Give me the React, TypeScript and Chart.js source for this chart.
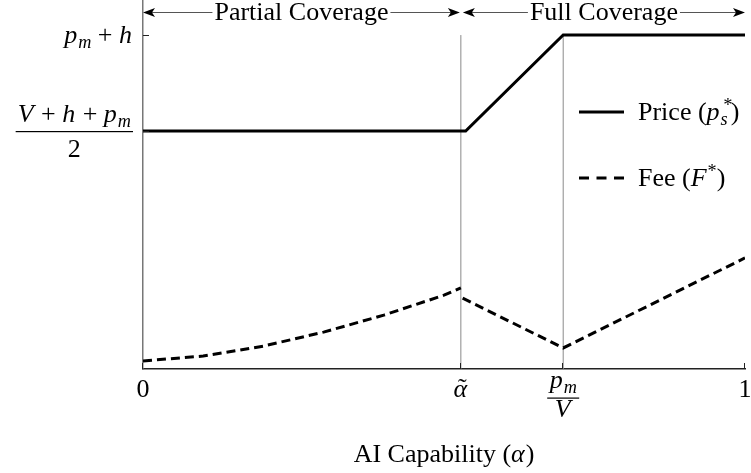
import { useEffect, useRef } from 'react';
import { Chart, registerables } from 'chart.js';

Chart.register(...registerables);

// ---- data ----
const X_TICKS = [0, 0.528, 0.698, 1]; // 0, alpha-tilde, p_m/V, 1
const Y_TICKS = [64.5, 90.5]; // (V+h+p_m)/2, p_m+h
const PRICE_X = [0, 0.536, 0.698, 1];
const PRICE_Y = [64.5, 64.5, 90.5, 90.5];
const FEE_X = [0, 0.1, 0.2, 0.3, 0.4, 0.5, 0.528, 0.529, 0.531, 0.698, 1];
const FEE_Y: (number | null)[] = [2.2, 3.5, 6.2, 10.0, 14.6, 20.0, 22.0, null, 19.2, 5.7, 30.1];
const REGIONS = ['Partial Coverage', 'Full Coverage'];
const SERIES = ['Price', 'Fee'];
const X_TITLE = 'AI Capability';

const FONT = '"Liberation Serif", "Times New Roman", serif';
const FS = 26;

type Seg = { t: string; it?: boolean; sub?: boolean; sup?: boolean; stack?: [string, string] };

function font(size: number, it?: boolean) {
  return `${it ? 'italic ' : ''}${size}px ${FONT}`;
}

function segW(ctx: CanvasRenderingContext2D, s: Seg, size: number) {
  if (s.stack) {
    ctx.font = font(size * 0.7, true);
    return Math.max(ctx.measureText(s.stack[0]).width, ctx.measureText(s.stack[1]).width) + 1;
  }
  ctx.font = font(s.sub || s.sup ? size * 0.7 : size, s.it);
  return ctx.measureText(s.t).width + (s.it && !s.sub && !s.sup ? 1 : 0);
}

function richW(ctx: CanvasRenderingContext2D, segs: Seg[], size: number) {
  return segs.reduce((a, s) => a + segW(ctx, s, size), 0);
}

function drawRich(
  ctx: CanvasRenderingContext2D,
  segs: Seg[],
  x: number,
  y: number,
  align: 'left' | 'center' | 'right',
  size = FS
) {
  const w = richW(ctx, segs, size);
  let cx = align === 'left' ? x : align === 'center' ? x - w / 2 : x - w;
  ctx.textAlign = 'left';
  ctx.textBaseline = 'alphabetic';
  ctx.fillStyle = '#000';
  for (const s of segs) {
    const sw = segW(ctx, s, size);
    if (s.stack) {
      ctx.font = font(size * 0.7, true);
      ctx.fillText(s.stack[0], cx + 2, y - size * 0.36);
      ctx.fillText(s.stack[1], cx, y + size * 0.2);
    } else {
      const small = s.sub || s.sup;
      ctx.font = font(small ? size * 0.7 : size, s.it);
      const dy = s.sub ? size * 0.2 : s.sup ? -size * 0.36 : 0;
      ctx.fillText(s.t, cx, y + dy);
    }
    cx += sw;
  }
  return w;
}

function arrowHead(ctx: CanvasRenderingContext2D, x: number, y: number, dir: number) {
  ctx.beginPath();
  ctx.moveTo(x, y);
  ctx.lineTo(x - dir * 12, y - 4.5);
  ctx.lineTo(x - dir * 9, y);
  ctx.lineTo(x - dir * 12, y + 4.5);
  ctx.closePath();
  ctx.fillStyle = '#000';
  ctx.fill();
}

const annotPlugin = {
  id: 'annot',
  afterDraw(chart: any) {
    const ctx: CanvasRenderingContext2D = chart.ctx;
    const xs = chart.scales.x;
    const ys = chart.scales.y;
    const area = chart.chartArea;
    ctx.save();

    // inward tick marks
    ctx.strokeStyle = '#222';
    ctx.lineWidth = 1;
    for (const v of Y_TICKS) {
      const py = Math.round(ys.getPixelForValue(v)) + 0.5;
      ctx.beginPath();
      ctx.moveTo(area.left, py);
      ctx.lineTo(area.left + 6, py);
      ctx.stroke();
    }
    for (const v of X_TICKS) {
      const px = Math.round(xs.getPixelForValue(v)) - 0.5;
      ctx.beginPath();
      ctx.moveTo(px, area.bottom);
      ctx.lineTo(px, area.bottom - 6);
      ctx.stroke();
    }

    // y tick labels
    const yTop = ys.getPixelForValue(Y_TICKS[1]);
    drawRich(ctx, [{ t: 'p', it: true }, { t: 'm', it: true, sub: true }, { t: ' + ' }, { t: 'h', it: true }], area.left - 10, yTop + 8, 'right');
    const yLow = ys.getPixelForValue(Y_TICKS[0]);
    const num: Seg[] = [{ t: 'V', it: true }, { t: ' + ' }, { t: 'h', it: true }, { t: ' + ' }, { t: 'p', it: true }, { t: 'm', it: true, sub: true }];
    const nw = richW(ctx, num, FS);
    const fracR = area.left - 10;
    const fracL = fracR - nw - 4;
    drawRich(ctx, num, (fracL + fracR) / 2, yLow - 9, 'center');
    ctx.fillStyle = '#000';
    ctx.fillRect(fracL, Math.round(yLow), fracR - fracL, 1.2);
    drawRich(ctx, [{ t: '2' }], (fracL + fracR) / 2, yLow + 26, 'center');

    // x tick labels
    const base = area.bottom + 28;
    drawRich(ctx, [{ t: '0' }], xs.getPixelForValue(X_TICKS[0]), base, 'center');
    const ax = xs.getPixelForValue(X_TICKS[1]);
    drawRich(ctx, [{ t: 'α', it: true }], ax, base, 'center');
    ctx.font = font(FS, false);
    ctx.textAlign = 'center';
    ctx.fillText('˜', ax + 1.5, base - 1);
    const px2 = xs.getPixelForValue(X_TICKS[2]);
    drawRich(ctx, [{ t: 'p', it: true }, { t: 'm', it: true, sub: true }], px2, base - 9, 'center');
    ctx.fillStyle = '#000';
    ctx.fillRect(px2 - 16, base + 0.5, 32, 1.2);
    drawRich(ctx, [{ t: 'V', it: true }], px2, base + 20, 'center');
    drawRich(ctx, [{ t: '1' }], xs.getPixelForValue(X_TICKS[3]), base, 'center');

    // x title
    drawRich(ctx, [{ t: X_TITLE + ' (' }, { t: 'α', it: true }, { t: ')' }], (area.left + area.right) / 2, 462, 'center');

    // top region arrows
    const ay = 12;
    const bounds = [
      [xs.getPixelForValue(X_TICKS[0]), xs.getPixelForValue(X_TICKS[1]) - 1],
      [xs.getPixelForValue(X_TICKS[1]) + 2, xs.getPixelForValue(X_TICKS[3])],
    ];
    REGIONS.forEach((label, i) => {
      const [l, r] = bounds[i];
      const c = (l + r) / 2;
      ctx.font = font(FS, false);
      const tw = ctx.measureText(label).width;
      ctx.fillStyle = '#000';
      ctx.textAlign = 'center';
      ctx.textBaseline = 'alphabetic';
      ctx.fillText(label, c, 20);
      ctx.strokeStyle = '#555';
      ctx.lineWidth = 1;
      ctx.beginPath();
      ctx.moveTo(l + 8, ay + 0.5);
      ctx.lineTo(c - tw / 2 - 2, ay + 0.5);
      ctx.moveTo(c + tw / 2 + 2, ay + 0.5);
      ctx.lineTo(r - 8, ay + 0.5);
      ctx.stroke();
      arrowHead(ctx, l, ay + 0.5, -1);
      arrowHead(ctx, r, ay + 0.5, 1);
    });

    // legend
    const lx0 = 579, lx1 = 624, tx = 638;
    const ly = [112, 178];
    ctx.strokeStyle = '#000';
    ctx.lineWidth = 3;
    ctx.beginPath();
    ctx.moveTo(lx0, ly[0]);
    ctx.lineTo(lx1, ly[0]);
    ctx.stroke();
    ctx.setLineDash([10, 7.5]);
    ctx.beginPath();
    ctx.moveTo(lx0, ly[1]);
    ctx.lineTo(lx1, ly[1]);
    ctx.stroke();
    ctx.setLineDash([]);
    drawRich(ctx, [{ t: SERIES[0] + ' (' }, { t: 'p', it: true }, { t: '', stack: ['*', 's'] }, { t: ')' }], tx, ly[0] + 8, 'left');
    drawRich(ctx, [{ t: SERIES[1] + ' (' }, { t: 'F', it: true }, { t: '*', sup: true }, { t: ')' }], tx, ly[1] + 8, 'left');

    ctx.restore();
  },
};

export default function App() {
  const ref = useRef<HTMLCanvasElement>(null);
  useEffect(() => {
    document.body.style.margin = '0';
    const canvas = ref.current!;
    const price = PRICE_X.map((x, i) => ({ x, y: PRICE_Y[i] }));
    const fee = FEE_X.map((x, i) => ({ x, y: FEE_Y[i] }));
    const vline = (v: number) => [
      { x: v, y: 0 },
      { x: v, y: Y_TICKS[1] },
    ];
    const chart = new Chart(canvas, {
      type: 'line',
      data: {
        datasets: [
          { label: SERIES[0], data: price, borderColor: '#000', borderWidth: 3, pointRadius: 0, tension: 0, order: 1 },
          { label: SERIES[1], data: fee as any, borderColor: '#000', borderWidth: 3, borderDash: [9, 5], pointRadius: 0, tension: 0, spanGaps: false, order: 2 },
          { label: 'a', data: vline(X_TICKS[1]), borderColor: '#8a8a8a', borderWidth: 1, pointRadius: 0, order: 3 },
          { label: 'b', data: vline(X_TICKS[2]), borderColor: '#8a8a8a', borderWidth: 1, pointRadius: 0, order: 3 },
        ],
      },
      options: {
        responsive: false,
        animation: false,
        layout: { padding: { left: 0, right: 6, top: 0, bottom: 0 } },
        plugins: { legend: { display: false }, tooltip: { enabled: false } },
        scales: {
          x: {
            type: 'linear',
            min: 0,
            max: 1,
            ticks: { display: false },
            grid: { display: true, drawOnChartArea: false, drawTicks: false },
            border: { color: '#222', width: 1.5 },
            afterFit: (s: any) => {
              s.height = 104;
            },
          },
          y: {
            type: 'linear',
            min: 0,
            max: 100,
            ticks: { display: false },
            grid: { display: true, drawOnChartArea: false, drawTicks: false },
            border: { color: '#777', width: 1.5 },
            afterFit: (s: any) => {
              s.width = 143;
            },
          },
        },
      },
      plugins: [annotPlugin],
    });
    return () => chart.destroy();
  }, []);
  return <canvas ref={ref} width={751} height={473} style={{ display: 'block' }} />;
}
